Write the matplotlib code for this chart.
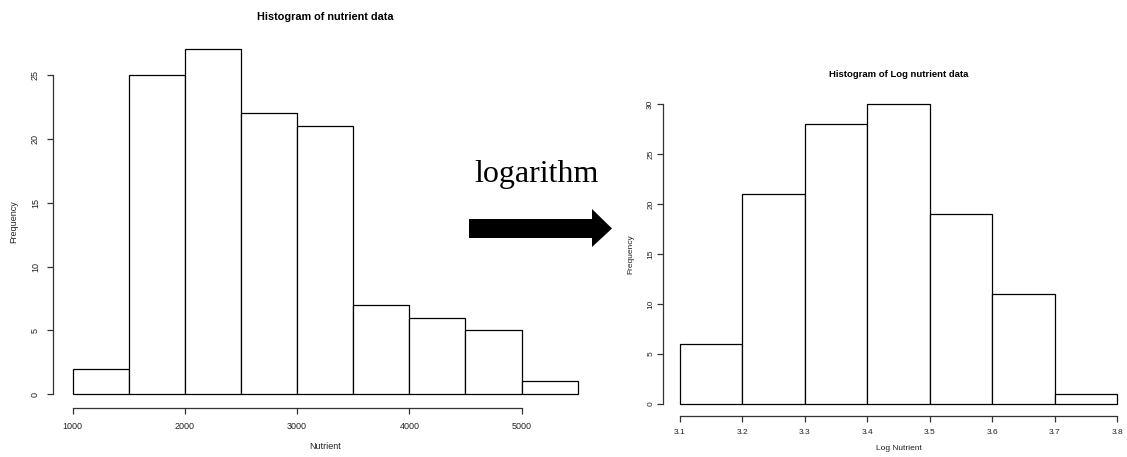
import numpy as np
import matplotlib
matplotlib.use("Agg")
import matplotlib.pyplot as plt
from matplotlib.patches import Polygon

plt.rcParams["font.family"] = ["Liberation Sans", "DejaVu Sans"]

# Raw nutrient histogram
raw_edges = [1000, 1500, 2000, 2500, 3000, 3500, 4000, 4500, 5000, 5500]
raw_counts = [2, 25, 27, 22, 21, 7, 6, 5, 1]
raw_xticks = [1000, 2000, 3000, 4000, 5000]
raw_yticks = [0, 5, 10, 15, 20, 25]

# Log-transformed nutrient histogram
log_edges = [3.1, 3.2, 3.3, 3.4, 3.5, 3.6, 3.7, 3.8]
log_counts = [6, 21, 28, 30, 19, 11, 1]
log_xticks = [3.1, 3.2, 3.3, 3.4, 3.5, 3.6, 3.7, 3.8]
log_yticks = [0, 5, 10, 15, 20, 25, 30]

W, H = 1127, 457
fig = plt.figure(figsize=(W / 100, H / 100), dpi=100)


def r_hist(ax, edges, counts, xticks, yticks, title, xlabel,
           title_fs, tick_fs, lab_fs, title_pad, xlab_pad, ylab_pad,
           xtick_pad, ytick_pad):
    edges = np.asarray(edges, dtype=float)
    counts = np.asarray(counts, dtype=float)
    widths = np.diff(edges)
    ax.bar(edges[:-1], counts, width=widths, align="edge",
           facecolor="white", edgecolor="black", linewidth=0.9)
    xr = edges[-1] - edges[0]
    ax.set_xlim(edges[0] - 0.04 * xr, edges[-1] + 0.04 * xr)
    yr = counts.max()
    ax.set_ylim(-0.04 * yr, yr * 1.04)
    for s in ("top", "right"):
        ax.spines[s].set_visible(False)
    ax.spines["bottom"].set_bounds(xticks[0], xticks[-1])
    ax.spines["left"].set_bounds(yticks[0], yticks[-1])
    for s in ("bottom", "left"):
        ax.spines[s].set_linewidth(0.9)
        ax.spines[s].set_color("#333333")
    ax.set_xticks(xticks)
    ax.set_xticklabels([f"{t:g}" for t in xticks])
    ax.set_yticks(yticks)
    ax.set_yticklabels([str(t) for t in yticks], rotation=90, va="center")
    ax.tick_params(axis="both", direction="out", length=4, width=0.9,
                   color="#333333", labelsize=tick_fs, labelcolor="#222222")
    ax.tick_params(axis="x", pad=xtick_pad)
    ax.tick_params(axis="y", pad=ytick_pad)
    ax.set_title(title, fontsize=title_fs, fontweight="bold", pad=title_pad)
    ax.set_xlabel(xlabel, fontsize=lab_fs, labelpad=xlab_pad, color="#222222")
    ax.set_ylabel("Frequency", fontsize=lab_fs, labelpad=ylab_pad, color="#222222")
    ax.patch.set_visible(False)


ax1 = fig.add_axes([52.5 / W, (H - 408) / H, (597.9 - 52.5) / W, (408 - 35.7) / H])
r_hist(ax1, raw_edges, raw_counts, raw_xticks, raw_yticks,
       "Histogram of nutrient data", "Nutrient",
       title_fs=7.8, tick_fs=6.5, lab_fs=6.5,
       title_pad=11.5, xlab_pad=8, ylab_pad=9,
       xtick_pad=6, ytick_pad=5)

ax2 = fig.add_axes([662.5 / W, (H - 416) / H, (1134.8 - 662.5) / W, (416 - 92) / H])
r_hist(ax2, log_edges, log_counts, log_xticks, log_yticks,
       "Histogram of Log nutrient data", "Log Nutrient",
       title_fs=6.8, tick_fs=6.0, lab_fs=6.0,
       title_pad=10.5, xlab_pad=7, ylab_pad=9.5,
       xtick_pad=5, ytick_pad=2)

# Transformation arrow between the two panels
def fx(px):
    return px / W


def fy(py):
    return (H - py) / H


arrow_pts = [(469, 219), (592, 219), (592, 209), (612, 228.5),
             (592, 247), (592, 238), (469, 238)]
fig.patches.append(Polygon([(fx(x), fy(y)) for x, y in arrow_pts],
                           closed=True, transform=fig.transFigure,
                           facecolor="black", edgecolor="black", linewidth=0))
fig.text(fx(537), fy(182), "logarithm", family=["Liberation Serif", "DejaVu Serif"],
         fontsize=23, ha="center", va="baseline", color="black")

fig.savefig("out.png", dpi=100, facecolor="white")
